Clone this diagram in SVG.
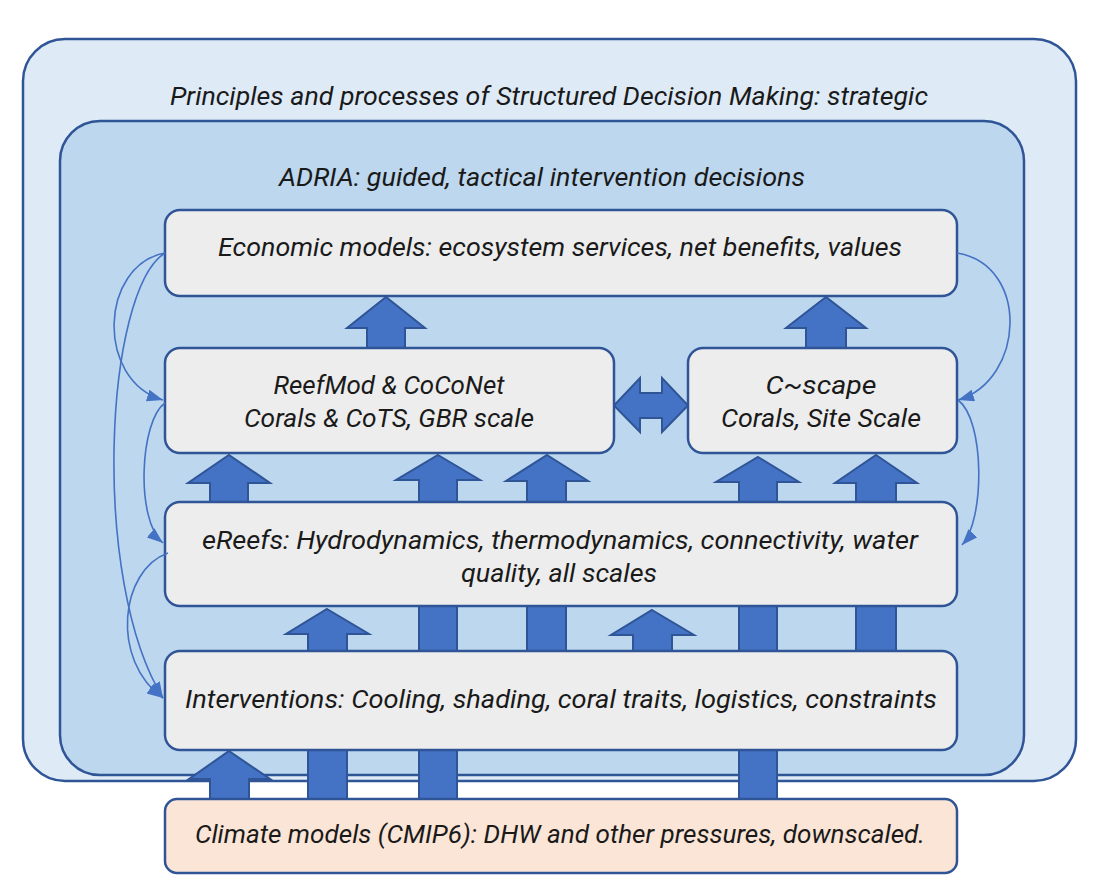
<svg xmlns="http://www.w3.org/2000/svg" width="1100" height="892" viewBox="0 0 1100 892">
<style>
.box{fill:#ededed;stroke:#2f5597;stroke-width:2.5}
.clim{fill:#fbe5d6;stroke:#2f5597;stroke-width:2.5}
.blk{fill:#4472c4;stroke:#2f5597;stroke-width:2;stroke-linejoin:miter}
.cur{fill:none;stroke:#4472c4;stroke-width:1.6}
text{font-family:Roboto,"Liberation Sans",sans-serif;font-style:italic;font-size:26px;fill:#1a1a1a;text-anchor:middle}
</style>
<defs>
<marker id="ah" markerUnits="userSpaceOnUse" markerWidth="18" markerHeight="14" refX="16" refY="6" orient="auto">
<path d="M0,0 L16,6 L0,12 Z" fill="#4472c4"/>
</marker>
</defs>
<rect width="1100" height="892" fill="#ffffff"/>
<g id="sdm">
<rect x="23" y="39" width="1053" height="742" rx="42" fill="#deebf7" stroke="#2f5597" stroke-width="2.5"/>
<text x="549" y="105" textLength="758" lengthAdjust="spacingAndGlyphs">Principles and processes of Structured Decision Making: strategic</text>
</g>
<g id="adria">
<rect x="60" y="121" width="964" height="654" rx="40" fill="#bdd7ee" stroke="#2f5597" stroke-width="2.5"/>
<text x="542" y="186" textLength="526" lengthAdjust="spacingAndGlyphs">ADRIA: guided, tactical intervention decisions</text>
</g>
<g id="block-arrows">
<path class="blk" d="M386,297 L425,328 L405,328 L405,348 L367,348 L367,328 L347,328 Z"/>
<path class="blk" d="M826,297 L866,328 L846,328 L846,348 L806,348 L806,328 L786,328 Z"/>
<path class="blk" d="M229,455 L270,483 L248,483 L248,502 L210,502 L210,483 L188,483 Z"/>
<path class="blk" d="M438,455 L480,480 L457,480 L457,799 L419,799 L419,480 L396,480 Z"/>
<path class="blk" d="M547,455 L588,481 L566,481 L566,651 L527,651 L527,481 L506,481 Z"/>
<path class="blk" d="M758,457 L799,482 L777,482 L777,799 L739,799 L739,482 L716,482 Z"/>
<path class="blk" d="M876,455 L917,483 L896,483 L896,651 L856,651 L856,483 L835,483 Z"/>
<path class="blk" d="M327,609 L369,634 L347,634 L347,799 L308,799 L308,634 L286,634 Z"/>
<path class="blk" d="M652,610 L694,635 L672,635 L672,651 L633,651 L633,635 L611,635 Z"/>
<path class="blk" d="M229,751 L270,779 L249,779 L249,799 L210,799 L210,779 L189,779 Z"/>
<path class="blk" d="M614,405.5 L640,378 L640,393 L662,393 L662,378 L688,405.5 L662,432 L662,418 L640,418 L640,432 Z"/>
</g>
<g id="economic">
<rect class="box" x="165" y="210" width="792" height="86" rx="15"/>
<text x="560" y="256" textLength="684" lengthAdjust="spacingAndGlyphs">Economic models: ecosystem services, net benefits, values</text>
</g>
<g id="reefmod">
<rect class="box" x="165" y="348" width="449" height="105" rx="15"/>
<text x="389" y="394" textLength="231" lengthAdjust="spacingAndGlyphs">ReefMod &amp; CoCoNet</text>
<text x="389" y="427" textLength="290" lengthAdjust="spacingAndGlyphs">Corals &amp; CoTS, GBR scale</text>
</g>
<g id="cscape">
<rect class="box" x="688" y="348" width="269" height="105" rx="15"/>
<text x="821" y="394" textLength="111" lengthAdjust="spacingAndGlyphs">C~scape</text>
<text x="821" y="427" textLength="200" lengthAdjust="spacingAndGlyphs">Corals, Site Scale</text>
</g>
<g id="ereefs">
<rect class="box" x="165" y="502" width="792" height="104" rx="15"/>
<text x="560" y="549" textLength="716" lengthAdjust="spacingAndGlyphs">eReefs: Hydrodynamics, thermodynamics, connectivity, water</text>
<text x="559" y="582" textLength="196" lengthAdjust="spacingAndGlyphs">quality, all scales</text>
</g>
<g id="interventions">
<rect class="box" x="165" y="651" width="792" height="99" rx="15"/>
<text x="561" y="708" textLength="752" lengthAdjust="spacingAndGlyphs">Interventions: Cooling, shading, coral traits, logistics, constraints</text>
</g>
<g id="climate">
<rect class="clim" x="165" y="799" width="792" height="74" rx="12"/>
<text x="560" y="843" textLength="730" lengthAdjust="spacingAndGlyphs">Climate models (CMIP6): DHW and other pressures, downscaled.</text>
</g>
<g id="connectors">
<path class="cur" d="M165,253 C100,265 95,380 163,400" marker-end="url(#ah)"/>
<path class="cur" d="M165,253 C105,290 90,580 163,698" marker-end="url(#ah)"/>
<path class="cur" d="M165,403 C140,420 135,520 163,543" marker-end="url(#ah)"/>
<path class="cur" d="M168,553 C120,570 110,660 163,698" marker-end="url(#ah)"/>
<path class="cur" d="M957,253 C1030,265 1025,380 958,400" marker-end="url(#ah)"/>
<path class="cur" d="M958,400 C985,420 985,520 962,545" marker-end="url(#ah)"/>
</g>
</svg>
